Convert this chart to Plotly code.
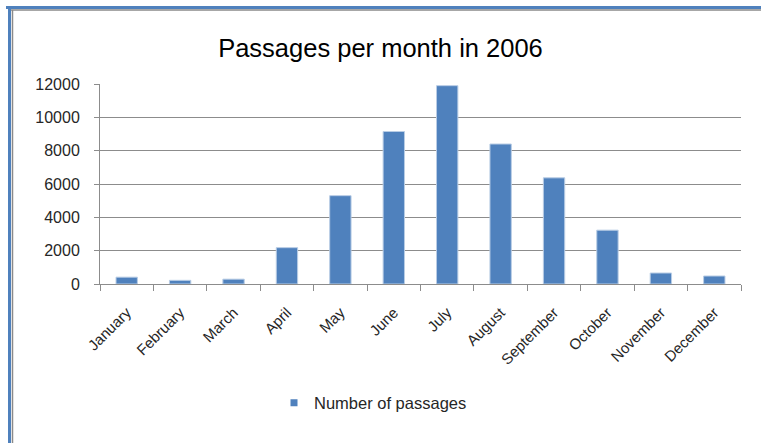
import plotly.graph_objects as go

months = ["January", "February", "March", "April", "May", "June", "July",
          "August", "September", "October", "November", "December"]
passages = [410, 220, 290, 2180, 5300, 9150, 11900, 8400, 6370, 3230, 660, 480]
y_ticks = [0, 2000, 4000, 6000, 8000, 10000, 12000]
series_name = "Number of passages"
title_text = "Passages per month in 2006"

W, H = 761, 443
ML, MR, MT, MB = 100, 20, 84, 159
PW, PH = W - ML - MR, H - MT - MB

def px_x(px):
    return (px - ML) / PW

def px_y(py):
    return (H - MB - py) / PH

FONT = "Liberation Sans, Arial, sans-serif"
GRID = "#8c8c8c"
BLUE = "#4F81BD"

fig = go.Figure()
fig.add_trace(go.Bar(
    x=months, y=passages, name=series_name, showlegend=False,
    marker=dict(color=BLUE, line=dict(color="#b9cde5", width=1)),
))
fig.add_trace(go.Scatter(
    x=[None], y=[None], mode="markers", name=series_name,
    marker=dict(symbol="square", size=7, color=BLUE),
))

shapes = [
    # frame: top edge
    dict(type="line", xref="paper", yref="paper", x0=px_x(6), x1=px_x(762),
         y0=px_y(7.5), y1=px_y(7.5), line=dict(color=BLUE, width=3)),
    dict(type="line", xref="paper", yref="paper", x0=px_x(10), x1=px_x(762),
         y0=px_y(10), y1=px_y(10), line=dict(color="#8a8a8a", width=1.5)),
    # frame: left edge
    dict(type="line", xref="paper", yref="paper", x0=px_x(9.5), x1=px_x(9.5),
         y0=px_y(6), y1=px_y(444), line=dict(color=BLUE, width=3)),
    dict(type="line", xref="paper", yref="paper", x0=px_x(12.5), x1=px_x(12.5),
         y0=px_y(10), y1=px_y(444), line=dict(color="#8a8a8a", width=1.5)),
]

fig.update_layout(
    width=W, height=H,
    margin=dict(l=ML, r=MR, t=MT, b=MB),
    paper_bgcolor="white", plot_bgcolor="white",
    font=dict(family=FONT, size=15, color="#262626"),
    title=dict(text=title_text, x=0.5, xref="container", xanchor="center",
               y=(H - 48) / H, yref="container", yanchor="middle",
               font=dict(family=FONT, size=25.5, color="black")),
    bargap=0.6,
    showlegend=True,
    legend=dict(orientation="h", x=px_x(274), xanchor="left",
                y=px_y(403), yanchor="middle", font=dict(size=16.5, color="#262626"),
                itemwidth=30),
    shapes=shapes,
    xaxis=dict(
        type="category", tickangle=-45, tickson="boundaries",
        ticks="outside", ticklen=6, tickcolor=GRID,
        showline=True, linecolor=GRID, linewidth=1,
        showgrid=False, tickfont=dict(size=15), ticklabelstandoff=13,
    ),
    yaxis=dict(
        range=[0, 12000], tickvals=y_ticks,
        ticktext=[str(v) for v in y_ticks],
        ticks="outside", ticklen=5, tickcolor=GRID,
        showline=True, linecolor=GRID, linewidth=1,
        showgrid=True, gridcolor=GRID, gridwidth=1,
        zeroline=False, tickfont=dict(size=16), ticklabelstandoff=11,
    ),
)

fig.write_html("out.html", config={"displayModeBar": False},
               post_script="document.body.style.margin='0';")
